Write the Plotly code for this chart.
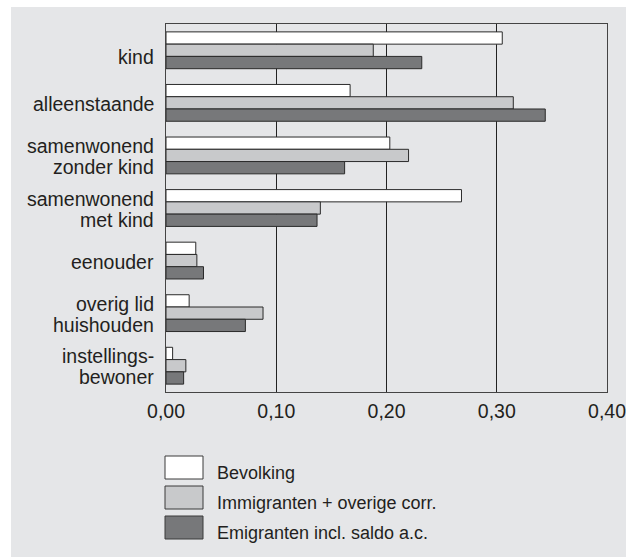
import plotly.graph_objects as go

# ---- data ----
categories = ["kind", "alleenstaande", "samenwonend<br>zonder kind", "samenwonend<br>met kind",
              "eenouder", "overig lid<br>huishouden", "instellings-<br>bewoner"]
series_names = ["Bevolking", "Immigranten + overige corr.", "Emigranten incl. saldo a.c."]
bevolking = [0.305, 0.167, 0.203, 0.268, 0.027, 0.021, 0.006]
immigranten = [0.188, 0.315, 0.220, 0.140, 0.028, 0.088, 0.018]
emigranten = [0.232, 0.344, 0.162, 0.137, 0.034, 0.072, 0.016]
tick_values = [0.0, 0.1, 0.2, 0.3, 0.4]

series_values = [bevolking, immigranten, emigranten]
colors = ["#ffffff", "#c8c9cb", "#77787a"]
outline = "#2a2a2a"
font_family = "Arial"
text_color = "#231f20"

W, H = 626, 558
L, R, T, B = 166, 19, 24, 166
PW, PH = W - L - R, H - T - B

def px_x(x):
    return (x - L) / PW

def px_y(y):
    return (H - B - y) / PH

fig = go.Figure()
for name, vals, col in zip(series_names, series_values, colors):
    fig.add_trace(go.Bar(
        x=vals, y=categories, orientation="h", name=name,
        marker=dict(color=col, line=dict(color=outline, width=1)),
        showlegend=False,
    ))

shapes = [
    # grey panel
    dict(type="rect", xref="paper", yref="paper", layer="below",
         x0=px_x(11), x1=px_x(W + 5), y0=px_y(557), y1=px_y(7),
         fillcolor="#e5e6e8", line=dict(width=0)),
]
annotations = []

# category labels (one annotation per line for tighter line spacing)
line_gap = 21
label_nudge = {"kind": -6}
for cat in categories:
    lines = cat.split("<br>")
    n = len(lines)
    for j, line in enumerate(lines):
        annotations.append(dict(xref="paper", yref="y", x=0, y=cat,
                                xanchor="right", yanchor="middle", xshift=-10,
                                yshift=((n - 1) / 2 - j) * line_gap - 1 + label_nudge.get(cat, 0),
                                showarrow=False, text=line,
                                font=dict(size=19.5, color=text_color, family=font_family)))

# legend drawn as boxes + labels
for i, (name, col) in enumerate(zip(series_names, colors)):
    top = 456 + 30 * i
    shapes.append(dict(type="rect", xref="paper", yref="paper", layer="above",
                       x0=px_x(165), x1=px_x(203), y0=px_y(top + 23), y1=px_y(top),
                       fillcolor=col, line=dict(color="#3a3a3a", width=1)))
    annotations.append(dict(xref="paper", yref="paper", x=px_x(215), y=px_y(top + 17),
                            xanchor="left", yanchor="middle", showarrow=False,
                            text=name, font=dict(size=18, color=text_color, family=font_family)))

fig.update_layout(
    width=W, height=H,
    margin=dict(l=L, r=R, t=T, b=B, autoexpand=False),
    paper_bgcolor="#ffffff", plot_bgcolor="#ffffff",
    barmode="group", bargap=0.3, bargroupgap=0,
    separators=", ",
    font=dict(family=font_family, size=19.5, color=text_color),
    shapes=shapes, annotations=annotations,
    showlegend=False,
    xaxis=dict(range=[0, 0.4], tickvals=tick_values, tickformat=".2f",
               ticklabeloverflow="allow",
               showgrid=True, gridcolor="#222222", gridwidth=1,
               showline=True, linecolor="#444444", linewidth=1, mirror=True,
               ticks="outside", ticklen=2, tickcolor="rgba(0,0,0,0)",
               zeroline=False, fixedrange=True),
    yaxis=dict(autorange="reversed", showgrid=False, showticklabels=False,
               showline=True, linecolor="#444444", linewidth=1, mirror=True,
               ticks="", zeroline=False, fixedrange=True),
)

fig.write_html("out.html", config={"displayModeBar": False},
               post_script="document.body.style.margin='0';")
